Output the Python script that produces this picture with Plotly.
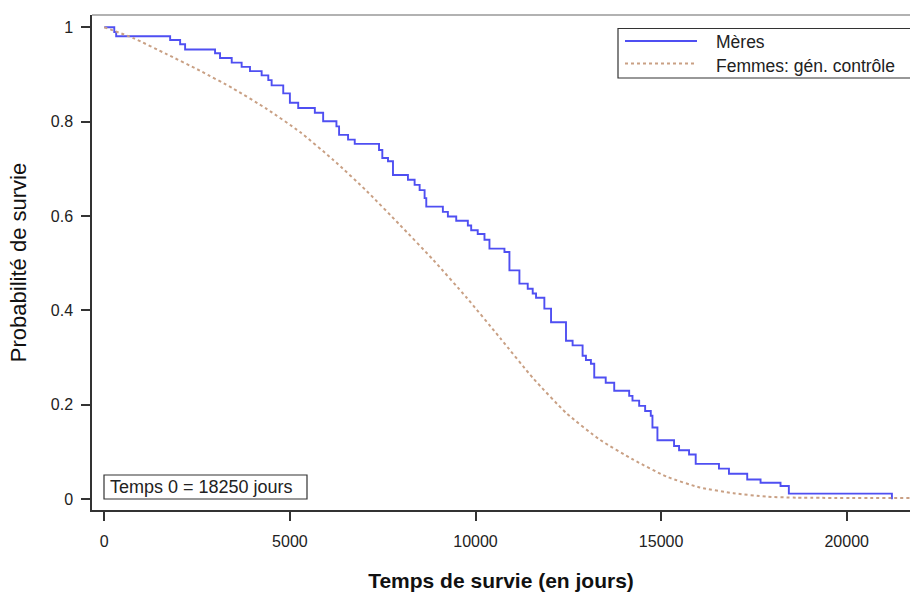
import plotly.graph_objects as go

# Mères: Kaplan-Meier step curve (days, survival)
meres_days = [0, 269, 320, 1774, 2043, 2177, 2984, 3118, 3433, 3700, 3925, 4239, 4418, 4508,
              4821, 5000, 5224, 5672, 5896, 6254, 6325, 6567, 6747, 7401, 7490, 7643, 7777,
              8180, 8360, 8495, 8629, 8674, 9121, 9256, 9481, 9794, 9884, 10060, 10242, 10376,
              10780, 10914, 11183, 11407, 11541, 11631, 11855, 12035, 12438, 12616, 12885,
              12975, 13109, 13199, 13508, 13737, 14140, 14229, 14409, 14570, 14722, 14767,
              14901, 15349, 15484, 15753, 15932, 16559, 16828, 17320, 17679, 18217, 18441, 21218]
meres_surv = [1.0, 0.99, 0.981, 0.973, 0.964, 0.953, 0.945, 0.935, 0.925, 0.916, 0.907, 0.898, 0.888, 0.877,
              0.860, 0.840, 0.829, 0.819, 0.801, 0.790, 0.772, 0.762, 0.753, 0.740, 0.723, 0.716, 0.687,
              0.677, 0.666, 0.655, 0.638, 0.620, 0.609, 0.599, 0.590, 0.580, 0.570, 0.562, 0.550, 0.531,
              0.524, 0.485, 0.457, 0.446, 0.436, 0.427, 0.404, 0.375, 0.336, 0.326, 0.304,
              0.295, 0.287, 0.258, 0.247, 0.230, 0.219, 0.209, 0.198, 0.187, 0.177, 0.152,
              0.125, 0.113, 0.104, 0.095, 0.075, 0.065, 0.054, 0.042, 0.035, 0.028, 0.012, 0.0]

# Femmes: génération contrôle (smooth expected survival)
ctrl_days = [0, 781, 1681, 2578, 3475, 4375, 5272, 6169, 7069, 7966, 8863, 9763, 10660,
             11557, 12457, 13354, 14251, 15151, 16048, 16945, 17845, 18653, 21705]
ctrl_surv = [1.0, 0.977, 0.943, 0.908, 0.870, 0.827, 0.778, 0.719, 0.653, 0.581, 0.507, 0.427, 0.342,
             0.256, 0.182, 0.126, 0.084, 0.048, 0.025, 0.013, 0.0055, 0.0034, 0.0027]

x_ticks = [0, 5000, 10000, 15000, 20000]
x_tick_labels = ["0", "5000", "10000", "15000", "20000"]
y_ticks = [0, 0.2, 0.4, 0.6, 0.8, 1]
y_tick_labels = ["0", "0.2", "0.4", "0.6", "0.8", "1"]

series_names = ["Mères", "Femmes: gén. contrôle"]
blue = "#4f4ff2"
tan = "#c9a084"

fig = go.Figure()
fig.add_trace(go.Scatter(x=meres_days, y=meres_surv, mode="lines", line_shape="hv",
                         line=dict(color=blue, width=1.9), name=series_names[0], showlegend=False))
fig.add_trace(go.Scatter(x=ctrl_days, y=ctrl_surv, mode="lines", line_shape="spline",
                         line=dict(color=tan, width=2, dash="dot", smoothing=0.6),
                         name=series_names[1], showlegend=False))

font_family = "Liberation Sans, Arial, sans-serif"

fig.update_layout(
    width=910, height=595,
    margin=dict(l=92, r=0, t=15, b=85),
    paper_bgcolor="white", plot_bgcolor="white",
    font=dict(family=font_family, size=16, color="#222"),
    xaxis=dict(range=[-331, 21705], tickvals=x_ticks, ticktext=x_tick_labels, ticks="outside",
               ticklen=9, tickwidth=1.5, tickcolor="#333", showline=True, linecolor="#333",
               linewidth=1.5, showgrid=False, zeroline=False, ticklabelstandoff=7,
               tickfont=dict(size=16, color="#222"),
               title=dict(text="<b>Temps de survie (en jours)</b>", font=dict(size=21, color="#111"),
                          standoff=24)),
    yaxis=dict(range=[-0.0227, 1.026], tickvals=y_ticks, ticktext=y_tick_labels, ticks="outside",
               ticklen=9, tickwidth=1.5, tickcolor="#333", showline=True, linecolor="#333", linewidth=1.5,
               showgrid=False, zeroline=False, ticklabelstandoff=5, tickfont=dict(size=16, color="#222"),
               title=dict(text="Probabilité de survie", font=dict(size=22, color="#111"), standoff=18)),
)

# top border
fig.add_shape(type="line", xref="paper", yref="paper", x0=0, x1=1, y0=1, y1=1,
              line=dict(color="#999", width=1.5))

# helpers to place decoration in pixel terms (plot area: x 92..910, y 15..510)
def px_x(p):
    return (p - 92) / 818.0

def px_y(p):
    return (510 - p) / 495.0

# legend box
fig.add_shape(type="rect", xref="paper", yref="paper", x0=px_x(618), x1=px_x(914), y0=px_y(78), y1=px_y(28.5),
              line=dict(color="#333", width=1.2), fillcolor="white")
fig.add_shape(type="line", xref="paper", yref="paper", x0=px_x(625), x1=px_x(697), y0=px_y(41), y1=px_y(41),
              line=dict(color=blue, width=2))
fig.add_shape(type="line", xref="paper", yref="paper", x0=px_x(625), x1=px_x(697), y0=px_y(63.5), y1=px_y(63.5),
              line=dict(color=tan, width=2, dash="dot"))
fig.add_annotation(xref="paper", yref="paper", x=px_x(714), y=px_y(42), text=series_names[0],
                   showarrow=False, xanchor="left", yanchor="middle", font=dict(size=17.5, color="#222"))
fig.add_annotation(xref="paper", yref="paper", x=px_x(714), y=px_y(66), text=series_names[1],
                   showarrow=False, xanchor="left", yanchor="middle", font=dict(size=17.5, color="#222"))

# time-zero note
fig.add_shape(type="rect", xref="paper", yref="paper", x0=px_x(104), x1=px_x(307), y0=px_y(499), y1=px_y(475),
              line=dict(color="#333", width=1.2), fillcolor="white")
fig.add_annotation(xref="paper", yref="paper", x=px_x(108), y=px_y(487), text="Temps 0 = 18250 jours",
                   showarrow=False, xanchor="left", yanchor="middle", align="left",
                   font=dict(size=18, color="#222"))

fig.write_html("out.html")
